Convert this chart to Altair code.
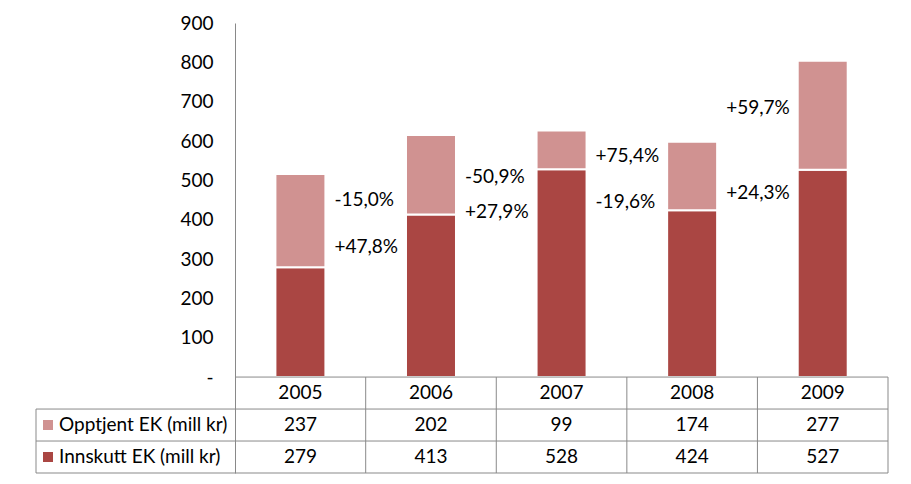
import altair as alt
import pandas as pd

# ---- data ----
years = [2005, 2006, 2007, 2008, 2009]
opptjent = [237, 202, 99, 174, 277]
innskutt = [279, 413, 528, 424, 527]
series_names = ["Opptjent EK (mill kr)", "Innskutt EK (mill kr)"]

change_years = [2005, 2006, 2007, 2008]
upper_labels = ["-15,0%", "-50,9%", "+75,4%", "+59,7%"]
upper_y = [450, 508, 562, 684]
lower_labels = ["+47,8%", "+27,9%", "-19,6%", "+24,3%"]
lower_y = [330, 420, 445, 468]

y_ticks = [0, 100, 200, 300, 400, 500, 600, 700, 800, 900]

# ---- styling / layout ----
FONT = "Lato"
FS = 19
DARK = "#AA4643"
LIGHT = "#D09291"
GRID = "#898989"
ROW_H = 81.3            # table row height in y units
LABEL_COL = 1.525       # table label column width in band units
Y_MIN = -3 * ROW_H
X_MIN = years[0] - 0.5 - LABEL_COL
X_MAX = years[-1] + 0.5

xs = alt.Scale(domain=[X_MIN, X_MAX], nice=False, zero=False, padding=0)
ys = alt.Scale(domain=[Y_MIN, 900], nice=False, zero=False, padding=0)

# stacked bars
rows = []
for yr, inn, opp in zip(years, innskutt, opptjent):
    rows.append({"year": yr, "series": series_names[1], "y0": 0, "y1": inn})
    rows.append({"year": yr, "series": series_names[0], "y0": inn, "y1": inn + opp})
bars_df = pd.DataFrame(rows)

color_scale = alt.Scale(domain=series_names, range=[LIGHT, DARK])

bars = alt.Chart(bars_df).mark_bar(width=50, stroke="white", strokeWidth=2).encode(
    x=alt.X("year:Q", scale=xs, axis=None),
    y=alt.Y("y0:Q", scale=ys, axis=alt.Axis(
        values=y_ticks, ticks=False, grid=False, domainColor=GRID, domainWidth=1,
        labelFont=FONT, labelFontSize=FS, labelColor="#000000", labelPadding=22,
        labelExpr="datum.value == 0 ? '-\u00a0\u00a0\u00a0\u00a0' : datum.label",
        offset=-199, title=None)),
    y2="y1:Q",
    color=alt.Color("series:N", scale=color_scale, legend=None),
)

# percentage annotations
ann_df = pd.DataFrame({
    "year": change_years * 2,
    "y": upper_y + lower_y,
    "label": upper_labels + lower_labels,
})
ann = alt.Chart(ann_df).mark_text(
    align="left", baseline="middle", dx=34, font=FONT, fontSize=FS, color="#000000"
).encode(x=alt.X("year:Q", scale=xs), y=alt.Y("y:Q", scale=ys), text="label:N")

# ---- data table below ----
edges = [years[0] - 0.5 + i for i in range(len(years) + 1)]
row_bounds = [0, -ROW_H, -2 * ROW_H, -3 * ROW_H]
row_centers = [-(i + 0.5) * ROW_H for i in range(3)]

hrules = [{"x": edges[0], "x2": edges[-1], "y": row_bounds[0]}]
for b in row_bounds[1:]:
    hrules.append({"x": X_MIN, "x2": edges[-1], "y": b})
vrules = [{"x": e, "y": row_bounds[0], "y2": row_bounds[-1]} for e in edges[1:]]
vrules.append({"x": X_MIN, "y": row_bounds[1], "y2": row_bounds[-1]})

h = alt.Chart(pd.DataFrame(hrules)).mark_rule(color=GRID, strokeWidth=1).encode(
    x=alt.X("x:Q", scale=xs), x2="x2:Q", y=alt.Y("y:Q", scale=ys))
v = alt.Chart(pd.DataFrame(vrules)).mark_rule(color=GRID, strokeWidth=1).encode(
    x=alt.X("x:Q", scale=xs), y=alt.Y("y:Q", scale=ys), y2="y2:Q")

cells = []
for yr, opp, inn in zip(years, opptjent, innskutt):
    cells.append({"x": yr, "y": row_centers[0], "t": str(yr)})
    cells.append({"x": yr, "y": row_centers[1], "t": str(opp)})
    cells.append({"x": yr, "y": row_centers[2], "t": str(inn)})
cell_text = alt.Chart(pd.DataFrame(cells)).mark_text(
    align="center", baseline="middle", font=FONT, fontSize=FS, color="#000000"
).encode(x=alt.X("x:Q", scale=xs), y=alt.Y("y:Q", scale=ys), text="t:N")

leg_df = pd.DataFrame({
    "x": [X_MIN, X_MIN],
    "y": row_centers[1:],
    "series": series_names,
})
leg_sq = alt.Chart(leg_df).mark_square(size=100, opacity=1, xOffset=12).encode(
    x=alt.X("x:Q", scale=xs), y=alt.Y("y:Q", scale=ys),
    color=alt.Color("series:N", scale=color_scale, legend=None))
leg_txt = alt.Chart(leg_df).mark_text(
    align="left", baseline="middle", dx=23, font=FONT, fontSize=FS, color="#000000"
).encode(x=alt.X("x:Q", scale=xs), y=alt.Y("y:Q", scale=ys), text="series:N")

chart = alt.layer(bars, ann, h, v, cell_text, leg_sq, leg_txt).properties(
    width=852, height=450,
    autosize=alt.AutoSizeParams(type="none"),
    padding={"left": 36, "top": 23, "right": 23, "bottom": 11},
    background="white",
).configure_view(stroke=None)

chart.save("out.html", embed_options={"renderer": "svg", "actions": False})
